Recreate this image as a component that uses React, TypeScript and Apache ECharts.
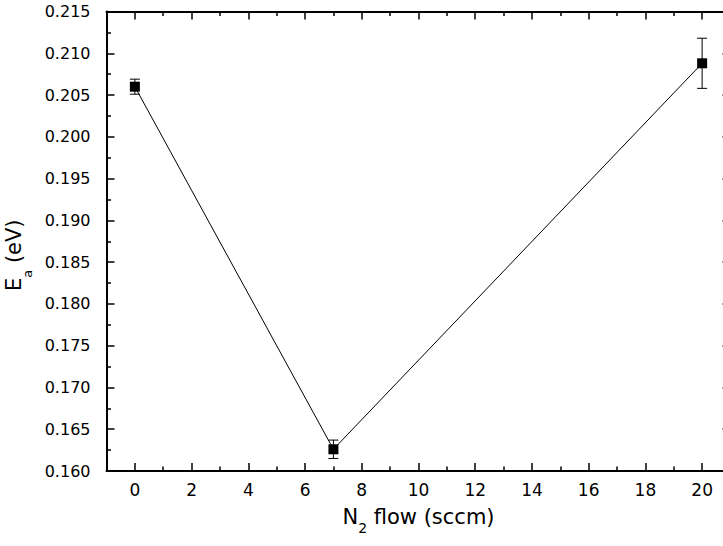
import React, { useEffect, useRef } from "react";
import * as echarts from "echarts";

// N2 flow (sccm) and the activation energy measured at each flow
const flows: number[] = [0, 7, 20];
const energies: number[] = [0.206, 0.1626, 0.2088];
const energyErrors: number[] = [0.0009, 0.0011, 0.003];

// x tick positions: labelled even values, short unlabelled ticks at odd values
const xMajorTicks: number[] = [0, 2, 4, 6, 8, 10, 12, 14, 16, 18, 20];
const xMinorTicks: number[] = [1, 3, 5, 7, 9, 11, 13, 15, 17, 19];

const FONT = "'DejaVu Sans', Verdana, sans-serif";
const GRID = { left: 106.5, top: 11.5, width: 624, height: 459.5, containLabel: false, outerBoundsMode: "none" };

export default function App() {
  const ref = useRef<HTMLDivElement>(null);

  useEffect(() => {
    if (!ref.current) return;
    const chart = echarts.init(ref.current, null, { renderer: "svg" });

    const axisLine = { show: true, onZero: false, lineStyle: { color: "#000", width: 2 } };
    const majorTick = (values: number[]) => ({
      show: true,
      inside: true,
      length: 8,
      customValues: values,
      lineStyle: { color: "#000", width: 1.5 },
    });
    const minorXTick = {
      show: true,
      inside: true,
      length: 4.5,
      customValues: xMinorTicks,
      lineStyle: { color: "#000", width: 1.5 },
    };
    const yTicks = {
      axisTick: { show: true, inside: true, length: 8, lineStyle: { color: "#000", width: 1.5 } },
      minorTick: { show: true, splitNumber: 2, length: 4.5, lineStyle: { color: "#000", width: 1.5 } },
    };

    const points = flows.map((f, i) => [f, energies[i]]);
    const bars = flows.map((f, i) => [f, energies[i], energyErrors[i]]);

    chart.setOption({
      animation: false,
      backgroundColor: "#fff",
      grid: [{ ...GRID }, { ...GRID }],
      xAxis: [
        {
          type: "value",
          gridIndex: 0,
          position: "bottom",
          min: -1,
          max: 21,
          axisLine,
          axisTick: majorTick(xMajorTicks),
          axisLabel: {
            customValues: xMajorTicks,
            color: "#000",
            fontSize: 17,
            fontFamily: FONT,
            margin: 10,
          },
          splitLine: { show: false },
          name: "{n|N}{s|2}{n| flow (sccm)}",
          nameLocation: "middle",
          nameGap: 40,
          nameTextStyle: {
            color: "#000",
            fontFamily: FONT,
            rich: {
              n: { fontSize: 21, lineHeight: 24, padding: [0, 0, 8, 0], verticalAlign: "bottom", fontFamily: FONT, color: "#000" },
              s: { fontSize: 14, lineHeight: 14, verticalAlign: "bottom", fontFamily: FONT, color: "#000" },
            },
          },
        },
        {
          type: "value",
          gridIndex: 0,
          position: "top",
          min: -1,
          max: 21,
          axisLine,
          axisTick: majorTick(xMajorTicks),
          axisLabel: { show: false },
          splitLine: { show: false },
        },
        {
          type: "value",
          gridIndex: 1,
          position: "bottom",
          min: -1,
          max: 21,
          axisLine: { show: false },
          axisTick: minorXTick,
          axisLabel: { show: false },
          splitLine: { show: false },
        },
        {
          type: "value",
          gridIndex: 1,
          position: "top",
          min: -1,
          max: 21,
          axisLine: { show: false },
          axisTick: minorXTick,
          axisLabel: { show: false },
          splitLine: { show: false },
        },
      ],
      yAxis: [
        {
          type: "value",
          gridIndex: 0,
          position: "left",
          min: 0.16,
          max: 0.215,
          interval: 0.005,
          axisLine,
          ...yTicks,
          axisLabel: {
            color: "#000",
            fontSize: 16,
            fontFamily: FONT,
            margin: 16,
            formatter: (v: number) => v.toFixed(3),
          },
          splitLine: { show: false },
          minorSplitLine: { show: false },
          name: "{n|E}{s|a}{n| (eV)}",
          nameLocation: "middle",
          nameGap: 65,
          nameTextStyle: {
            color: "#000",
            fontFamily: FONT,
            padding: [0, 28, 0, 0],
            rich: {
              n: { fontSize: 21, lineHeight: 24, padding: [0, 0, 9, 0], verticalAlign: "bottom", fontFamily: FONT, color: "#000" },
              s: { fontSize: 13, lineHeight: 13, verticalAlign: "bottom", fontFamily: FONT, color: "#000" },
            },
          },
        },
        {
          type: "value",
          gridIndex: 0,
          position: "right",
          min: 0.16,
          max: 0.215,
          interval: 0.005,
          axisLine,
          ...yTicks,
          axisLabel: { show: false },
          splitLine: { show: false },
          minorSplitLine: { show: false },
        },
        {
          type: "value",
          gridIndex: 1,
          min: 0.16,
          max: 0.215,
          show: false,
        },
      ],
      series: [
        {
          type: "custom",
          xAxisIndex: 0,
          yAxisIndex: 0,
          z: 2,
          data: bars,
          encode: { x: 0, y: 1 },
          renderItem: (_params: any, api: any) => {
            const x = api.value(0);
            const y = api.value(1);
            const e = api.value(2);
            const top = api.coord([x, y + e]);
            const bot = api.coord([x, y - e]);
            const hw = 5;
            const style = { stroke: "#000", lineWidth: 1 };
            return {
              type: "group",
              children: [
                { type: "line", shape: { x1: top[0], y1: top[1], x2: bot[0], y2: bot[1] }, style },
                { type: "line", shape: { x1: top[0] - hw, y1: top[1], x2: top[0] + hw, y2: top[1] }, style },
                { type: "line", shape: { x1: bot[0] - hw, y1: bot[1], x2: bot[0] + hw, y2: bot[1] }, style },
              ],
            };
          },
        },
        {
          type: "line",
          xAxisIndex: 0,
          yAxisIndex: 0,
          z: 3,
          data: points,
          symbol: "rect",
          symbolSize: 10,
          showSymbol: true,
          itemStyle: { color: "#000" },
          lineStyle: { color: "#000", width: 1 },
        },
      ],
    });

    return () => chart.dispose();
  }, []);

  return (
    <div
      style={{
        position: "fixed",
        left: 0,
        top: 0,
        width: 723,
        height: 546,
        overflow: "hidden",
        background: "#fff",
      }}
    >
      <div ref={ref} style={{ width: 740, height: 546 }} />
    </div>
  );
}
